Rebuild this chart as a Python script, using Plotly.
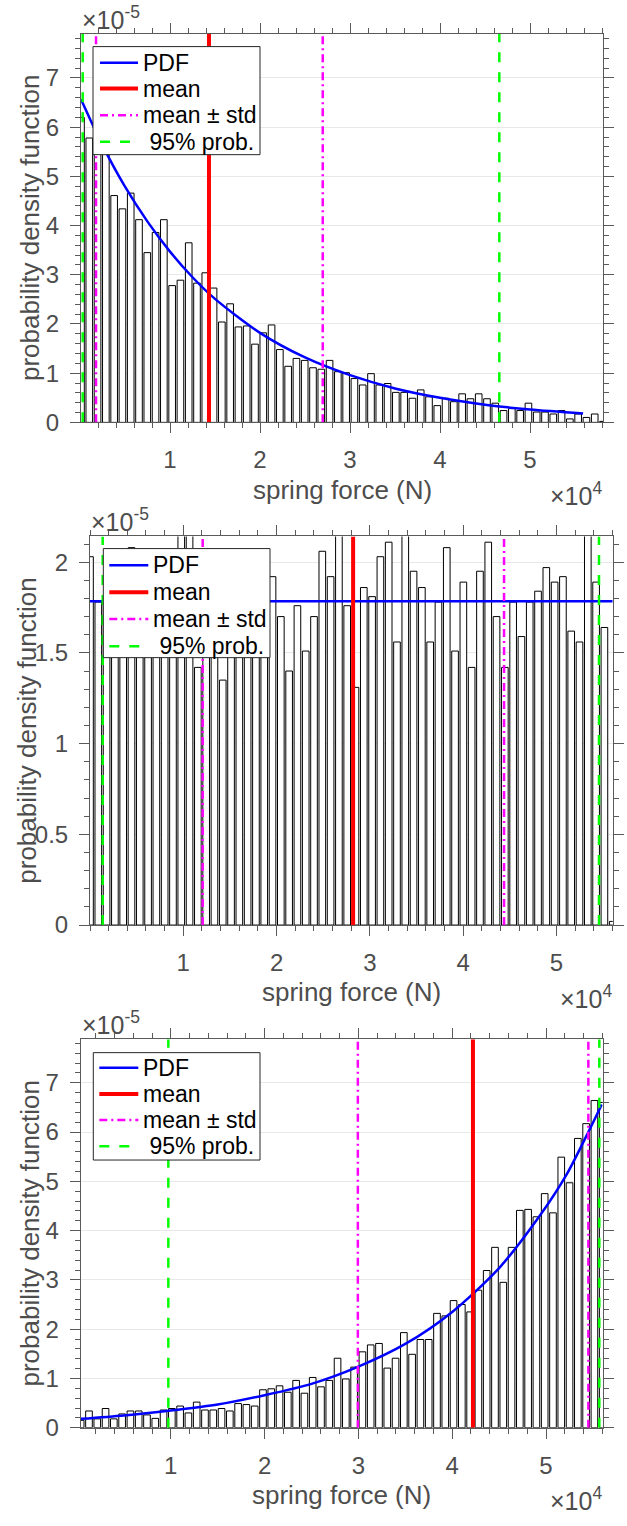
import numpy as np
import plotly.graph_objects as go

# ---------------- data (force in units of 1e4 N, density in units of 1e-5 1/N) -------------
# Panel 1 (decreasing exponential-like)
p1_force_range = [0.011, 5.811]          # first / last bin centre
p1_density = [6.2, 5.78, 5.6, 5.5, 4.61, 4.34, 4.66, 4.12, 3.45, 3.86,
              4.12, 2.78, 2.89, 3.65, 2.83, 3.04, 2.73, 2.04, 2.41, 1.94,
              1.96, 1.59, 1.82, 1.98, 1.48, 1.14, 1.30, 1.26, 1.11, 1.08,
              1.26, 1.03, 1.01, 0.89, 0.76, 0.99, 0.76, 0.79, 0.61, 0.61,
              0.49, 0.66, 0.52, 0.34, 0.49, 0.42, 0.58, 0.48, 0.58, 0.48,
              0.39, 0.24, 0.28, 0.24, 0.39, 0.21, 0.21, 0.17, 0.24, 0.07,
              0.17, 0.10, 0.17, 0.02]
p1_pdf_x = [0.011, 0.25, 0.5, 0.75, 1.0, 1.25, 1.5, 2.0, 2.5, 3.0, 3.5, 4.0, 4.5, 5.0, 5.59]
p1_pdf_y = [6.57, 5.63, 4.79, 4.08, 3.47, 2.95, 2.51, 1.82, 1.32, 0.96, 0.69, 0.50, 0.36, 0.26, 0.18]
p1_mean = 1.433
p1_std_lines = [0.178, 2.697]
p1_prob95 = [0.030, 4.659]
p1_ymax = 7.9

# Panel 2 (uniform)
p2_force_range = [0.0, 5.604]
p2_density = [2.03, 1.78, 1.80, 1.95, 1.72, 2.08, 1.88, 1.65, 1.98, 1.76,
              1.90, 2.20, 2.20, 1.42, 1.62, 1.85, 1.35, 1.74, 1.96, 1.68,
              1.86, 1.79, 1.92, 1.70, 1.40, 1.76, 1.51, 1.70, 2.06, 1.92,
              2.20, 1.76, 1.31, 1.86, 1.81, 2.03, 2.11, 1.56, 2.20, 1.95,
              1.86, 1.56, 1.78, 2.08, 1.51, 1.89, 1.42, 1.95, 2.11, 1.70,
              1.42, 1.78, 1.59, 1.78, 1.84, 1.97, 1.89, 1.92, 1.62, 1.56,
              2.20, 1.89, 1.64, 0.02]
p2_pdf_x = [0.0, 5.604]
p2_pdf_y = [1.785, 1.785]
p2_mean = 2.821
p2_std_lines = [1.208, 4.439]
p2_prob95 = [0.136, 5.457]
p2_ymax = 2.142

# Panel 3 (increasing exponential-like)
p3_force_range = [0.04, 5.604]
p3_density = [0.15, 0.34, 0.18, 0.39, 0.18, 0.28, 0.34, 0.34, 0.26, 0.19,
              0.36, 0.39, 0.44, 0.30, 0.52, 0.36, 0.36, 0.39, 0.34, 0.49,
              0.47, 0.44, 0.77, 0.79, 0.85, 0.72, 0.96, 0.70, 1.02, 0.83,
              0.96, 1.41, 0.99, 1.23, 1.54, 1.68, 1.71, 1.21, 1.41, 1.93,
              1.49, 1.79, 1.79, 2.32, 2.27, 2.58, 2.50, 2.35, 2.79, 3.19,
              3.66, 2.95, 3.66, 4.41, 4.43, 4.28, 4.75, 4.36, 5.49, 4.97,
              5.87, 6.17, 6.64, 6.60]
p3_pdf_x = [0.04, 0.5, 1.0, 1.5, 2.0, 2.5, 3.0, 3.5, 4.0, 4.5, 4.933, 5.22, 5.451, 5.594]
p3_pdf_y = [0.18, 0.25, 0.35, 0.47, 0.66, 0.89, 1.24, 1.70, 2.35, 3.24, 4.30, 5.14, 6.00, 6.56]
p3_mean = 4.221
p3_std_lines = [2.994, 5.451]
p3_prob95 = [0.974, 5.568]
p3_ymax = 7.88

legend_labels = ["PDF", "mean", "mean ± std", "\u00a095% prob."]

# ---------------- figure ----------------
W, H = 627, 1526
FONT = "Liberation Sans, Arial, Helvetica, sans-serif"
AX = "#5a5a5a"
TXT = "#4d4d4d"

STYLE = {
    "PDF": dict(color="#0000ff", width=2.5, dash="solid"),
    "mean": dict(color="#ff0000", width=4, dash="solid"),
    "std": dict(color="#ff00ff", width=2.5, dash="8px,4px,2px,4px"),
    "p95": dict(color="#00ff00", width=2.5, dash="10px,10px"),
}

panels = [
    dict(rng=p1_force_range, dens=p1_density, px=p1_pdf_x, py=p1_pdf_y, mean=p1_mean,
         std=p1_std_lines, p95=p1_prob95, ymax=p1_ymax,
         box=(81, 603, 34, 426), yt=[0, 1, 2, 3, 4, 5, 6, 7], yminor=0.2,
         leg=(93, 260, 47, 156), rows=[63.3, 89.3, 116.3, 143.0], samp=(100, 138), ylx=30),
    dict(rng=p2_force_range, dens=p2_density, px=p2_pdf_x, py=p2_pdf_y, mean=p2_mean,
         std=p2_std_lines, p95=p2_prob95, ymax=p2_ymax,
         box=(90, 612.7, 541, 933), yt=[0, 0.5, 1, 1.5, 2], yminor=0.1,
         leg=(103.3, 270, 553.3, 663.3), rows=[570, 597.3, 624.3, 651.7], samp=(109.3, 148.3), ylx=27),
    dict(rng=p3_force_range, dens=p3_density, px=p3_pdf_x, py=p3_pdf_y, mean=p3_mean,
         std=p3_std_lines, p95=p3_prob95, ymax=p3_ymax,
         box=(80.7, 602.7, 1048.3, 1440), yt=[0, 1, 2, 3, 4, 5, 6, 7], yminor=0.2,
         leg=(93.3, 260, 1061.7, 1170), rows=[1077, 1103.3, 1129.5, 1156], samp=(99.3, 138.3), ylx=30),
]

fig = go.Figure()
layout = dict(width=W, height=H, margin=dict(l=0, r=0, t=0, b=0),
              paper_bgcolor="white", plot_bgcolor="white", bargap=0.2,
              showlegend=False, font=dict(family=FONT, color=TXT))
annotations = []
shapes = []


def px_x(v):
    return v / W


def px_y(v):
    return 1 - v / H


for i, p in enumerate(panels):
    n = i + 1
    xa = "x" if n == 1 else f"x{n}"
    ya = "y" if n == 1 else f"y{n}"
    centers = np.linspace(p["rng"][0], p["rng"][1], len(p["dens"]))
    fig.add_trace(go.Bar(x=centers, y=p["dens"], xaxis=xa, yaxis=ya, name="histogram",
                         marker=dict(color="white", line=dict(color="black", width=1))))
    fig.add_trace(go.Scatter(x=p["px"], y=p["py"], xaxis=xa, yaxis=ya, mode="lines",
                             line=dict(color=STYLE["PDF"]["color"], width=STYLE["PDF"]["width"],
                                       shape="spline", smoothing=0.8),
                             name=legend_labels[0]))
    fig.add_trace(go.Scatter(x=[p["mean"], p["mean"]], y=[0, p["ymax"]], xaxis=xa, yaxis=ya,
                             mode="lines", line=STYLE["mean"], name=legend_labels[1]))
    for v in p["std"]:
        fig.add_trace(go.Scatter(x=[v, v], y=[0, p["ymax"]], xaxis=xa, yaxis=ya, mode="lines",
                                 line=STYLE["std"], name=legend_labels[2]))
    for v in p["p95"]:
        fig.add_trace(go.Scatter(x=[v, v], y=[0, p["ymax"]], xaxis=xa, yaxis=ya, mode="lines",
                                 line=STYLE["p95"], name=legend_labels[3]))

    x0, x1, yt0, yb = p["box"]
    xdom = [x0 / W, x1 / W]
    ydom = [1 - yb / H, 1 - yt0 / H]
    common = dict(showline=True, linecolor=AX, linewidth=1, mirror="ticks",
                  ticks="outside", ticklen=10, tickwidth=1, tickcolor=AX,
                  tickfont=dict(size=24, color=TXT, family=FONT), zeroline=False)
    layout["xaxis" if n == 1 else f"xaxis{n}"] = dict(
        common, domain=xdom, range=p["rng"], anchor=ya, showgrid=False,
        tickmode="array", tickvals=[1, 2, 3, 4, 5], ticktext=["1", "2", "3", "4", "5"],
        ticklabelstandoff=6,
        minor=dict(ticks="outside", ticklen=5, tickcolor=AX, tickmode="linear", tick0=0, dtick=0.2))
    layout["yaxis" if n == 1 else f"yaxis{n}"] = dict(
        common, domain=ydom, range=[0, p["ymax"]], anchor=xa, showgrid=True,
        gridcolor="#e8e8e8", gridwidth=1,
        tickmode="array", tickvals=p["yt"], ticktext=[f"{v:g}" for v in p["yt"]],
        ticklabelstandoff=6,
        minor=dict(ticks="outside", ticklen=5, tickcolor=AX, tickmode="linear", tick0=0,
                   dtick=p["yminor"]))

    # ---- legend box (drawn as shapes + text) ----
    lx0, lx1, ly0, ly1 = p["leg"]
    shapes.append(dict(type="rect", xref="paper", yref="paper", layer="above",
                       x0=px_x(lx0), x1=px_x(lx1), y0=px_y(ly1), y1=px_y(ly0),
                       fillcolor="white", line=dict(color="#262626", width=1)))
    sx0, sx1 = p["samp"]
    for key, label, ry in zip(["PDF", "mean", "std", "p95"], legend_labels, p["rows"]):
        st = STYLE[key]
        shapes.append(dict(type="line", xref="paper", yref="paper", layer="above",
                           x0=px_x(sx0), x1=px_x(sx1), y0=px_y(ry), y1=px_y(ry),
                           line=dict(color=st["color"], width=st["width"], dash=st["dash"])))
        annotations.append(dict(text=label, xref="paper", yref="paper",
                                x=px_x(sx1 + 3), y=px_y(ry), xanchor="left", yanchor="middle",
                                showarrow=False, font=dict(size=23, color="black", family=FONT)))

    # axis labels and exponent labels
    annotations.append(dict(text="probability density function", xref="paper", yref="paper",
                            x=px_x(p["ylx"]), y=px_y((yt0 + yb) / 2),
                            xanchor="center", yanchor="middle", textangle=-90, showarrow=False,
                            font=dict(size=26, color=TXT, family=FONT)))
    annotations.append(dict(text="spring force (N)", xref="paper", yref="paper",
                            x=px_x((x0 + x1) / 2), y=px_y(yb + 68),
                            xanchor="center", yanchor="middle", showarrow=False,
                            font=dict(size=26, color=TXT, family=FONT)))
    annotations.append(dict(text="×10<sup>-5</sup>", xref="paper", yref="paper",
                            x=px_x(x0 - 1), y=px_y(yt0 + 2),
                            xanchor="left", yanchor="bottom", showarrow=False,
                            font=dict(size=25, color=TXT, family=FONT)))
    annotations.append(dict(text="×10<sup>4</sup>", xref="paper", yref="paper",
                            x=px_x(x1 + 1), y=px_y(yb + 54),
                            xanchor="right", yanchor="top", showarrow=False,
                            font=dict(size=25, color=TXT, family=FONT)))

layout["annotations"] = annotations
layout["shapes"] = shapes
fig.update_layout(**layout)
fig.write_html("out.html",
               config={"displayModeBar": False},
               post_script="document.body.style.margin='0';document.body.style.padding='0';")
